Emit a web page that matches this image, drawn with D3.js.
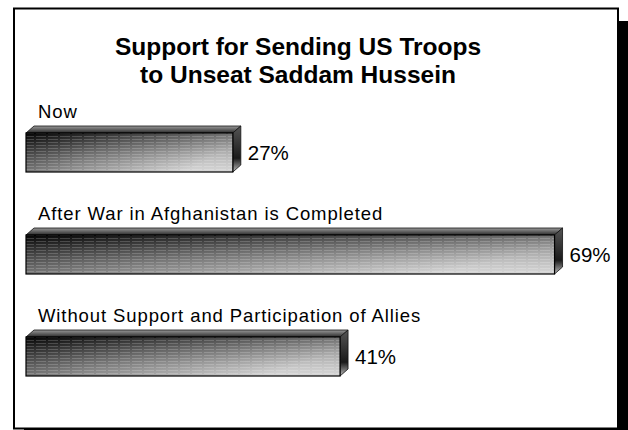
<!DOCTYPE html>
<html>
<head>
<meta charset="utf-8">
<script src="https://cdn.jsdelivr.net/npm/d3@7"></script>
<style>
  html, body { margin: 0; padding: 0; background: #fff; }
  svg { display: block; }
  text { font-family: "Liberation Sans", Arial, sans-serif; fill: #000; }
</style>
</head>
<body>
<svg id="chart" width="628" height="430"></svg>
<script>
// Survey data
const categories = [
  "Now",
  "After War in Afghanistan is Completed",
  "Without Support and Participation of Allies"
];
const values = [27, 69, 41];
const titleLines = ["Support for Sending US Troops", "to Unseat Saddam Hussein"];

const W = 628, H = 430;
const svg = d3.select("#chart");
const defs = svg.append("defs");

// Front-face shading: dark at left, light grey at right
const gFront = defs.append("linearGradient")
  .attr("id", "gFront").attr("x1", "0").attr("y1", "0").attr("x2", "1").attr("y2", "0.35");
gFront.append("stop").attr("offset", "0%").attr("stop-color", "#050505");
gFront.append("stop").attr("offset", "45%").attr("stop-color", "#666");
gFront.append("stop").attr("offset", "100%").attr("stop-color", "#c8c8c8");

// Vertical lightening toward the bottom of the front face
const gFrontV = defs.append("linearGradient")
  .attr("id", "gFrontV").attr("x1", "0").attr("y1", "0").attr("x2", "0").attr("y2", "1");
gFrontV.append("stop").attr("offset", "0%").attr("stop-color", "#000").attr("stop-opacity", 0.4);
gFrontV.append("stop").attr("offset", "100%").attr("stop-color", "#fff").attr("stop-opacity", 0.25);

// Fine horizontal dashed stripes
const pat = defs.append("pattern")
  .attr("id", "stripes").attr("patternUnits", "userSpaceOnUse")
  .attr("width", 12).attr("height", 3);
pat.append("rect").attr("x", 0).attr("y", 1).attr("width", 10).attr("height", 1)
  .attr("fill", "#fff").attr("opacity", 0.18);

// Top face and side face shading
const gTop = defs.append("linearGradient")
  .attr("id", "gTop").attr("x1", "0").attr("y1", "0").attr("x2", "0").attr("y2", "1");
gTop.append("stop").attr("offset", "0%").attr("stop-color", "#9a9a9a");
gTop.append("stop").attr("offset", "100%").attr("stop-color", "#2a2a2a");

const gSide = defs.append("linearGradient")
  .attr("id", "gSide").attr("x1", "0").attr("y1", "0").attr("x2", "0").attr("y2", "1");
gSide.append("stop").attr("offset", "0%").attr("stop-color", "#555");
gSide.append("stop").attr("offset", "70%").attr("stop-color", "#1a1a1a");
gSide.append("stop").attr("offset", "100%").attr("stop-color", "#bbb");

// Frame with drop shadow
svg.append("rect").attr("x", 24).attr("y", 21).attr("width", 610).attr("height", 420).attr("fill", "#000");
svg.append("rect").attr("x", 14).attr("y", 8.5).attr("width", 604).attr("height", 420)
  .attr("fill", "#fff").attr("stroke", "#000").attr("stroke-width", 2);

// Title
svg.append("text")
  .attr("x", 298).attr("y", 55)
  .attr("text-anchor", "middle")
  .attr("font-size", 24.5).attr("font-weight", "bold")
  .selectAll("tspan").data(titleLines).join("tspan")
  .attr("x", 298).attr("dy", (d, i) => i === 0 ? 0 : 28)
  .text(d => d);

// Scales
const x = d3.scaleLinear().domain([0, 100]).range([26, 792]);
const y = d3.scalePoint().domain(categories).range([133, 337]);
const barH = 39, dx = 8, dy = 7;

const rows = svg.append("g").selectAll("g")
  .data(categories.map((c, i) => ({ c, v: values[i] })))
  .join("g");

// Category labels
rows.append("text")
  .attr("x", 38).attr("y", d => y(d.c) - 15.5)
  .attr("font-size", 18.5).attr("letter-spacing", 0.9)
  .text(d => d.c);

// Top face
rows.append("path")
  .attr("d", d => {
    const x0 = x(0), x1 = x(d.v), t = y(d.c);
    return `M${x0},${t} L${x0 + dx},${t - dy} L${x1 + dx},${t - dy} L${x1},${t} Z`;
  })
  .attr("fill", "url(#gTop)").attr("stroke", "#111").attr("stroke-width", 0.8);

// Side face
rows.append("path")
  .attr("d", d => {
    const x1 = x(d.v), t = y(d.c);
    return `M${x1},${t} L${x1 + dx},${t - dy} L${x1 + dx},${t + barH - dy} L${x1},${t + barH} Z`;
  })
  .attr("fill", "url(#gSide)").attr("stroke", "#111").attr("stroke-width", 0.8);

// Front face: gradient, shading and stripes
rows.append("rect")
  .attr("x", x(0)).attr("y", d => y(d.c))
  .attr("width", d => x(d.v) - x(0)).attr("height", barH)
  .attr("fill", "url(#gFront)");
rows.append("rect")
  .attr("x", x(0)).attr("y", d => y(d.c))
  .attr("width", d => x(d.v) - x(0)).attr("height", barH)
  .attr("fill", "url(#gFrontV)");
rows.append("rect")
  .attr("x", x(0)).attr("y", d => y(d.c))
  .attr("width", d => x(d.v) - x(0)).attr("height", barH)
  .attr("fill", "url(#stripes)")
  .attr("stroke", "#000").attr("stroke-width", 1.2);

// Value labels
rows.append("text")
  .attr("x", d => x(d.v) + dx + 7)
  .attr("y", d => y(d.c) + barH / 2 + 7.5)
  .attr("font-size", 20.5)
  .text(d => d.v + "%");
</script>
</body>
</html>
